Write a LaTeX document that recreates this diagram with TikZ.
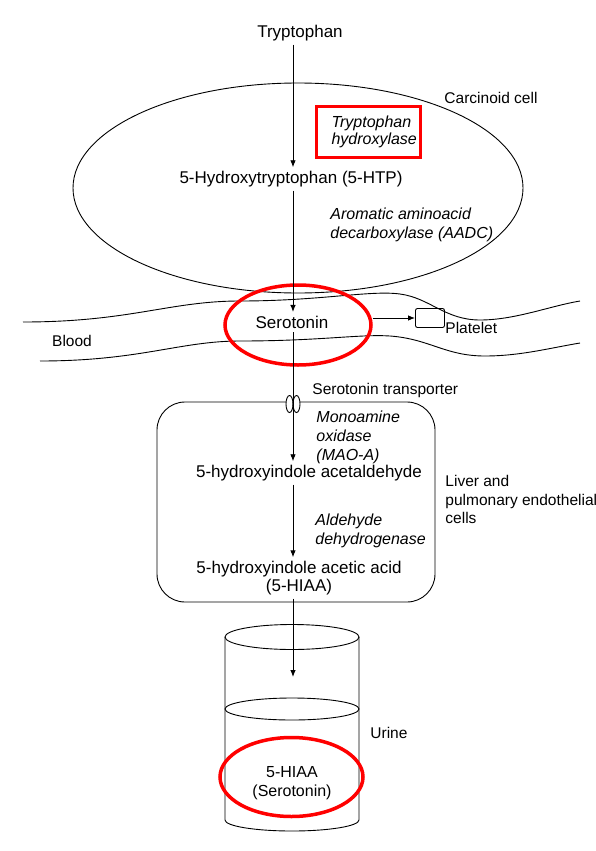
\documentclass[tikz,border=0pt]{standalone}
\usepackage{fontspec}
\setmainfont{Liberation Sans}
\usetikzlibrary{positioning,shapes.geometric,arrows.meta}
\begin{document}
\begin{tikzpicture}[>={Latex[length=7pt,width=5.5pt]}, x=1pt, y=-1pt, line width=0.9pt,
  font=\fontsize{17}{18}\selectfont,
  lbl/.style={font=\fontsize{15.5}{18.5}\selectfont, inner sep=0pt},
  enzyme/.style={font=\fontsize{16}{19}\selectfont\itshape, align=left, anchor=north west, inner sep=0pt},
  ring/.style={draw=red, line width=3.5pt, ellipse, inner sep=0pt}]
\useasboundingbox (0,0) rectangle (595,851);
\coordinate (ax) at (293,0);

% carcinoid cell
\draw (298,188) ellipse [x radius=225pt, y radius=105pt];
\node[lbl] (cell) at (491,98) {Carcinoid cell};

% blood vessel
\draw (23,322) .. controls (130,322) and (170,301) .. (240,301)
  .. controls (320,301) and (370,290) .. (400,294)
  .. controls (430,298) and (445,320) .. (480,320)
  .. controls (515,320) and (550,306) .. (580,301);
\draw (40,361) .. controls (140,361) and (180,341) .. (240,341)
  .. controls (320,341) and (360,334) .. (390,336)
  .. controls (430,339) and (445,356) .. (485,356)
  .. controls (520,356) and (550,348) .. (580,343);
\node[lbl] (blood) at (72,341) {Blood};

% liver cell
\draw[rounded corners=28pt] (157,402) rectangle (435,602);
\draw[fill=white] (289.5,404) ellipse [x radius=3.5pt, y radius=8.5pt];
\draw[fill=white] (296.5,404) ellipse [x radius=3.5pt, y radius=8.5pt];
\node[lbl, anchor=west] (sertlbl) at (312,390) {Serotonin transporter};
\node[lbl, align=left, anchor=north west] (liver) at (445,475) {Liver and\\pulmonary endothelial\\cells};

% urine
\draw (292,637) ellipse [x radius=67pt, y radius=12.5pt];
\draw (292,709) ellipse [x radius=67pt, y radius=11pt];
\draw (225,637) -- (225,820) arc [start angle=180, end angle=360, x radius=67pt, y radius=11pt] -- (359,637);
\node[lbl, anchor=west] (urine) at (370,733) {Urine};

% pathway
\node (trp) at (300,33) {Tryptophan};
\node (htp) at (291,179) {5-Hydroxytryptophan (5-HTP)};
\node[draw=red, line width=3pt, font=\fontsize{16}{17}\selectfont\itshape, align=left,
  text width=74pt, inner xsep=15pt, minimum height=51pt] (tph) at (368.5,132) {Tryptophan\\hydroxylase};
\node[enzyme] (aadc) at (330,207) {Aromatic aminoacid\\decarboxylase (AADC)};
\node (ser) at (292,322) {Serotonin};
\node[ring, minimum width=146pt, minimum height=80pt] (serring) at (298,325) {};
\node[draw, rounded corners=2pt, minimum width=29pt, minimum height=19pt, inner sep=0pt] (plt) at (430,318) {};
\node[lbl, anchor=west] (pltlbl) at (445,328) {Platelet};
\node[enzyme] (mao) at (316,410) {Monoamine\\oxidase\\(MAO-A)};
\node (ald) at (309,473) {5-hydroxyindole acetaldehyde};
\node[enzyme] (aldh) at (315,513) {Aldehyde\\dehydrogenase};
\node[align=center] (hiaa) at (299,578) {5-hydroxyindole acetic acid\\(5-HIAA)};
\coordinate (urin) at (293,677);
\node[ring, minimum width=143pt, minimum height=79pt] (uring) at (291.5,777) {};
\node[align=center, font=\fontsize{16}{19}\selectfont] (uhiaa) at (292,783) {5-HIAA\\(Serotonin)};

\draw[->] (trp.south -| ax) -- (htp.north -| ax);
\draw[->] (htp.south -| ax) -- (ser.north -| ax);
\draw[->] (serring.east |- plt) -- (plt.west);
\draw[->] (ser.south -| ax) -- (ald.north -| ax);
\draw[->] (ald.south -| ax) -- (hiaa.north -| ax);
\draw[->] (hiaa.south -| ax) -- (urin);
\end{tikzpicture}
\end{document}
